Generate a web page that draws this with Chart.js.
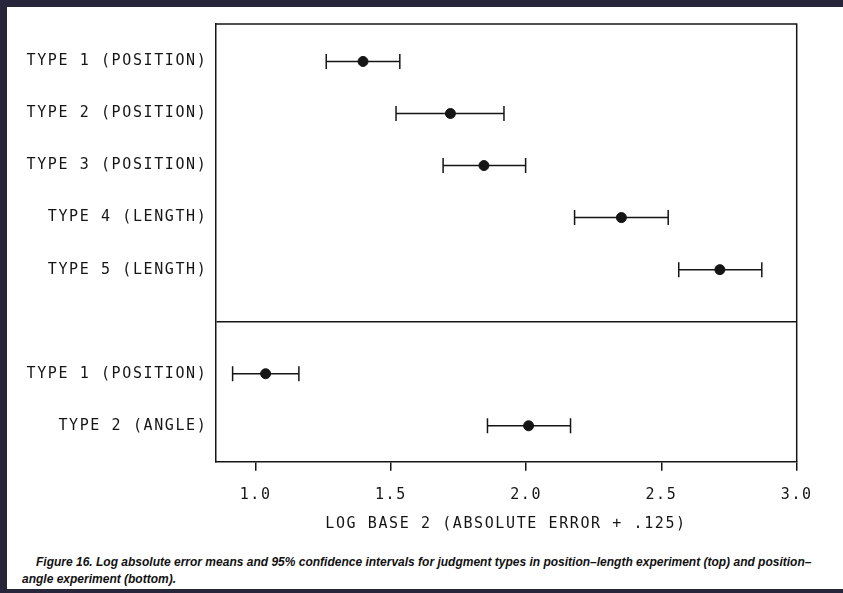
<!DOCTYPE html>
<html>
<head>
<meta charset="utf-8">
<script src="https://cdn.jsdelivr.net/npm/chart.js@4/dist/chart.umd.min.js"></script>
<style>
  html, body { margin: 0; padding: 0; background: #262539; }
  #page { position: absolute; left: 7px; top: 7px; width: 836px; height: 582px; background: #fff; }
  #wrap { position: absolute; left: 0; top: 0; width: 836px; height: 533px; }
  #caption {
    position: absolute; left: 15px; top: 547px;
    font: italic bold 12px "Liberation Sans", Arial, sans-serif;
    line-height: 17px; color: #111; white-space: nowrap;
  }
  #caption .first { padding-left: 14px; }
</style>
</head>
<body>
<div id="page">
  <div id="wrap"><canvas id="chart"></canvas></div>
  <div id="caption">
    <span class="first">Figure 16. Log absolute error means and 95% confidence intervals for judgment types in position–length experiment (top) and position–</span><br>
    angle experiment (bottom).
  </div>
</div>
<script>
  // Judgment types, top panel first, then bottom panel
  const categories = [
    'TYPE 1 (POSITION)', 'TYPE 2 (POSITION)', 'TYPE 3 (POSITION)',
    'TYPE 4 (LENGTH)', 'TYPE 5 (LENGTH)',
    'TYPE 1 (POSITION)', 'TYPE 2 (ANGLE)'
  ];
  // Row slot of each category (slot 6 is the panel divider)
  const rows = [1, 2, 3, 4, 5, 7, 8];
  const dividerRow = 6;

  // Means and 95% confidence limits
  const means = [1.397, 1.720, 1.844, 2.352, 2.716, 1.037, 2.009];
  const lower = [1.261, 1.519, 1.693, 2.179, 2.564, 0.915, 1.857];
  const upper = [1.533, 1.918, 1.998, 2.525, 2.871, 1.160, 2.164];

  const xTicks = [1.0, 1.5, 2.0, 2.5, 3.0];
  const xTitle = 'LOG BASE 2 (ABSOLUTE ERROR + .125)';

  const INK = '#151515';

  Chart.defaults.font.family = '"DejaVu Sans Mono", "Liberation Mono", monospace';
  Chart.defaults.font.size = 15;
  Chart.defaults.color = INK;

  // Mean dots (first dataset is drawn on top)
  const datasets = [{
    data: means.map((m, i) => ({ x: m, y: rows[i] })),
    pointRadius: 5,
    pointBackgroundColor: INK,
    pointBorderColor: INK,
    showLine: false
  }];

  // One interval line per row, with capped ends
  rows.forEach((r, i) => {
    datasets.push({
      data: [{ x: lower[i], y: r }, { x: upper[i], y: r }],
      showLine: true,
      borderColor: INK,
      borderWidth: 1.5,
      pointStyle: 'line',
      pointRotation: 90,
      pointRadius: 7.5,
      pointBorderColor: INK,
      pointBorderWidth: 1.5
    });
  });

  // Plotter-style lettering and the closed frame
  const framePlugin = {
    id: 'frame',
    beforeDraw(chart) {
      chart.ctx.letterSpacing = '1.6px';
    },
    afterDraw(chart) {
      const { ctx, chartArea } = chart;
      ctx.save();
      ctx.strokeStyle = INK;
      ctx.lineWidth = 1.5;
      ctx.beginPath();
      ctx.moveTo(chartArea.left, chartArea.top);
      ctx.lineTo(chartArea.right, chartArea.top);
      ctx.lineTo(chartArea.right, chartArea.bottom);
      ctx.stroke();
      ctx.restore();
    }
  };

  new Chart(document.getElementById('chart'), {
    type: 'scatter',
    data: { datasets: datasets },
    plugins: [framePlugin],
    options: {
      responsive: true,
      maintainAspectRatio: false,
      animation: false,
      events: [],
      layout: { padding: { top: 15.7, right: 46.3, left: 0, bottom: 0 } },
      plugins: { legend: { display: false }, tooltip: { enabled: false } },
      scales: {
        x: {
          type: 'linear',
          min: 0.851,
          max: 3.0,
          afterBuildTicks(axis) {
            axis.ticks = xTicks.map(v => ({ value: v }));
          },
          afterFit(axis) { axis.height = 78.3; },
          ticks: {
            padding: 15,
            maxRotation: 0,
            callback: v => Number(v).toFixed(1)
          },
          grid: {
            drawOnChartArea: false,
            tickLength: 9,
            color: INK,
            lineWidth: 1.5
          },
          border: { color: INK, width: 1.5 },
          title: {
            display: true,
            text: xTitle,
            padding: { top: 0, bottom: 7 }
          }
        },
        y: {
          type: 'linear',
          reverse: true,
          min: 0.28,
          max: 8.69,
          afterBuildTicks(axis) {
            axis.ticks = [1, 2, 3, 4, 5, dividerRow, 7, 8].map(v => ({ value: v }));
          },
          afterFit(axis) { axis.width = 208.3; },
          ticks: {
            padding: 8,
            callback: v => {
              const i = rows.indexOf(v);
              return i >= 0 ? categories[i] : '';
            }
          },
          grid: {
            drawTicks: false,
            color: c => (c.tick && c.tick.value === dividerRow ? INK : 'rgba(0,0,0,0)'),
            lineWidth: 1.5
          },
          border: { color: INK, width: 1.5 }
        }
      }
    }
  });
</script>
</body>
</html>
